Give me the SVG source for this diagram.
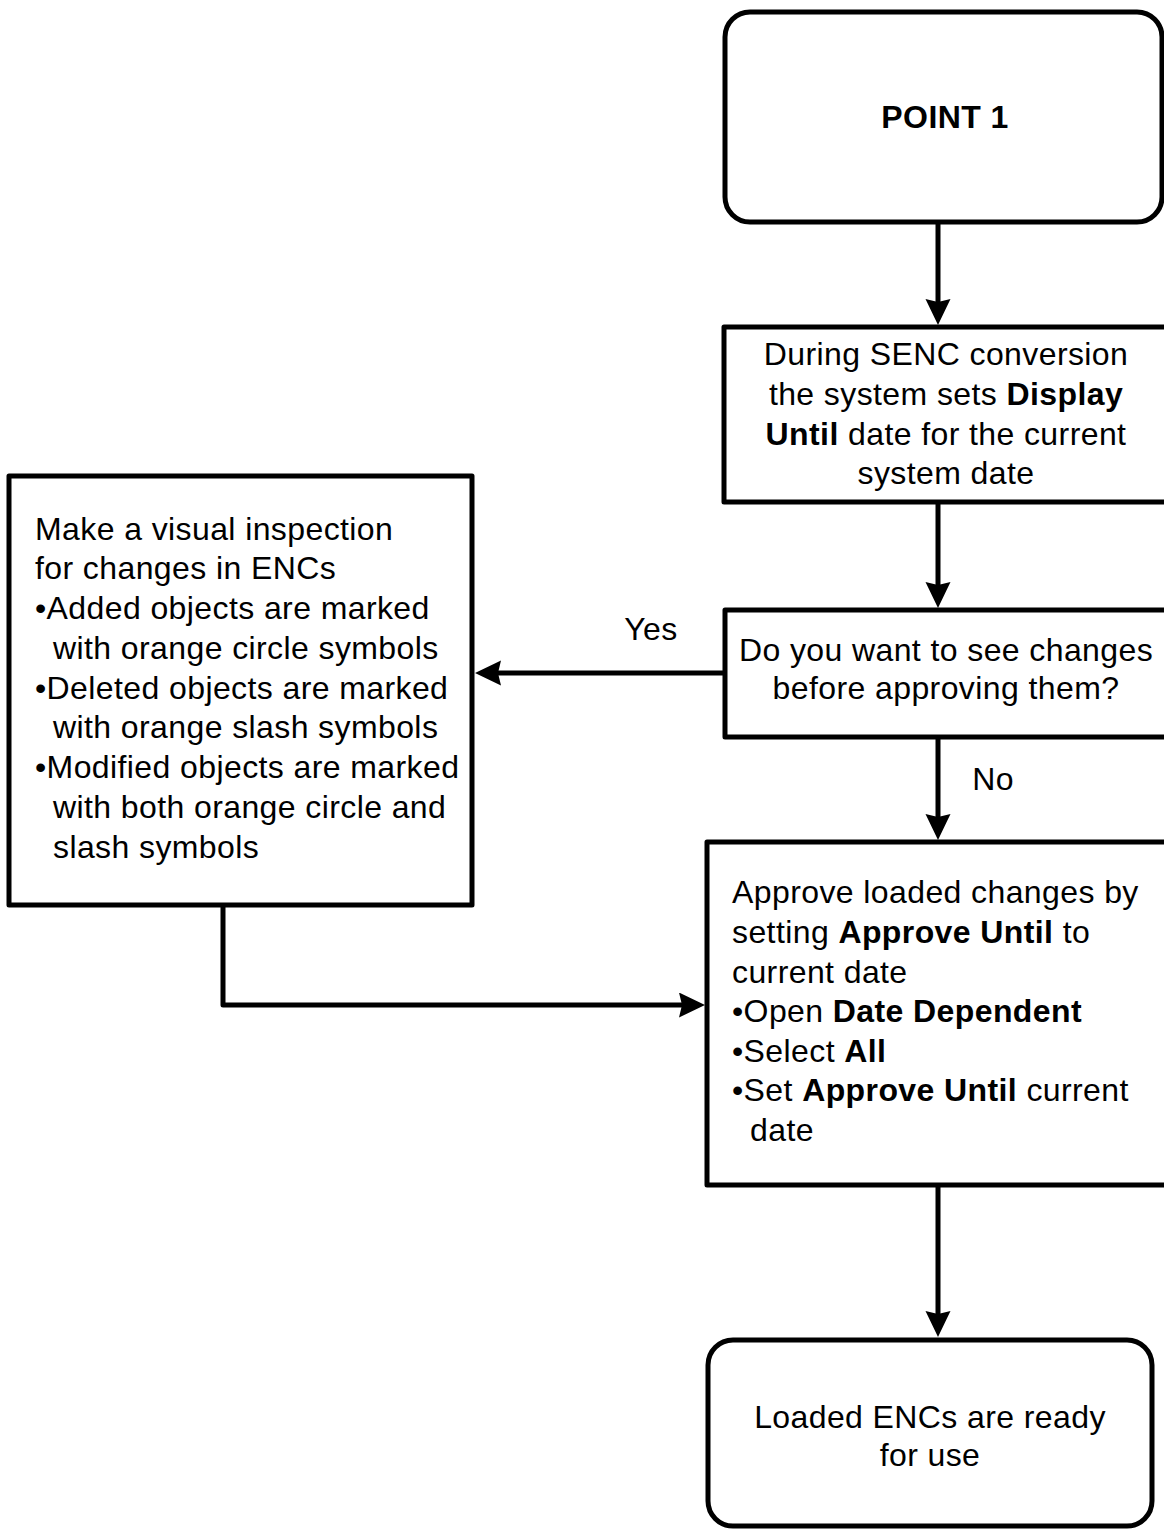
<svg xmlns="http://www.w3.org/2000/svg" width="1164" height="1530" viewBox="0 0 1164 1530">
<style>
.box{fill:#fff;stroke:#000;stroke-width:5;stroke-linejoin:round}
.t{font-family:"Liberation Sans",Arial,Helvetica,sans-serif;font-size:32px;letter-spacing:0.4px;fill:#000}
.c{text-anchor:middle}
.b{font-weight:bold}
.conn{fill:none;stroke:#000;stroke-width:5;stroke-linejoin:round}
</style>
<defs>
<marker id="arr" markerUnits="userSpaceOnUse" markerWidth="27" markerHeight="26" refX="3" refY="12.5" orient="auto">
<path d="M0,0 L26,12.5 L0,25 L3,12.5 z" fill="#000"/>
</marker>
</defs>
<rect width="1164" height="1530" fill="#fff"/>
<g id="connectors">
<path class="conn" d="M938,222 V302" marker-end="url(#arr)"/>
<path class="conn" d="M938,502 V585" marker-end="url(#arr)"/>
<path class="conn" d="M725,673 H498" marker-end="url(#arr)"/>
<path class="conn" d="M938,737 V817" marker-end="url(#arr)"/>
<path class="conn" d="M223,905 V1005 H682" marker-end="url(#arr)"/>
<path class="conn" d="M938,1185 V1314" marker-end="url(#arr)"/>
<text class="t c" x="651" y="640">Yes</text>
<text class="t c" x="993" y="790">No</text>
</g>
<g id="point1">
<rect class="box" x="725" y="12" width="437" height="210" rx="25"/>
<text class="t c b" x="945" y="128">POINT 1</text>
</g>
<g id="senc">
<rect class="box" x="724" y="327" width="444" height="175"/>
<text class="t c" x="946" y="365">During SENC conversion</text>
<text class="t c" x="946" y="405">the system sets <tspan class="b">Display</tspan></text>
<text class="t c" x="946" y="445"><tspan class="b">Until</tspan> date for the current</text>
<text class="t c" x="946" y="484">system date</text>
</g>
<g id="question">
<rect class="box" x="725" y="610" width="443" height="127"/>
<text class="t c" x="946" y="661">Do you want to see changes</text>
<text class="t c" x="946" y="699">before approving them?</text>
</g>
<g id="inspect">
<rect class="box" x="9" y="476" width="463" height="429"/>
<text class="t" x="35" y="540">Make a visual inspection</text>
<text class="t" x="35" y="579">for changes in ENCs</text>
<text class="t" x="35" y="619">•Added objects are marked</text>
<text class="t" x="53" y="659">with orange circle symbols</text>
<text class="t" x="35" y="699">•Deleted objects are marked</text>
<text class="t" x="53" y="738">with orange slash symbols</text>
<text class="t" x="35" y="778">•Modified objects are marked</text>
<text class="t" x="53" y="818">with both orange circle and</text>
<text class="t" x="53" y="858">slash symbols</text>
</g>
<g id="approve">
<rect class="box" x="707" y="842" width="461" height="343"/>
<text class="t" x="732" y="903">Approve loaded changes by</text>
<text class="t" x="732" y="943">setting <tspan class="b">Approve Until</tspan> to</text>
<text class="t" x="732" y="983">current date</text>
<text class="t" x="732" y="1022">•Open <tspan class="b">Date Dependent</tspan></text>
<text class="t" x="732" y="1062">•Select <tspan class="b">All</tspan></text>
<text class="t" x="732" y="1101">•Set <tspan class="b">Approve Until</tspan> current</text>
<text class="t" x="750" y="1141">date</text>
</g>
<g id="ready">
<rect class="box" x="708" y="1340" width="444" height="186" rx="25"/>
<text class="t c" x="930" y="1428">Loaded ENCs are ready</text>
<text class="t c" x="930" y="1466">for use</text>
</g>
</svg>
